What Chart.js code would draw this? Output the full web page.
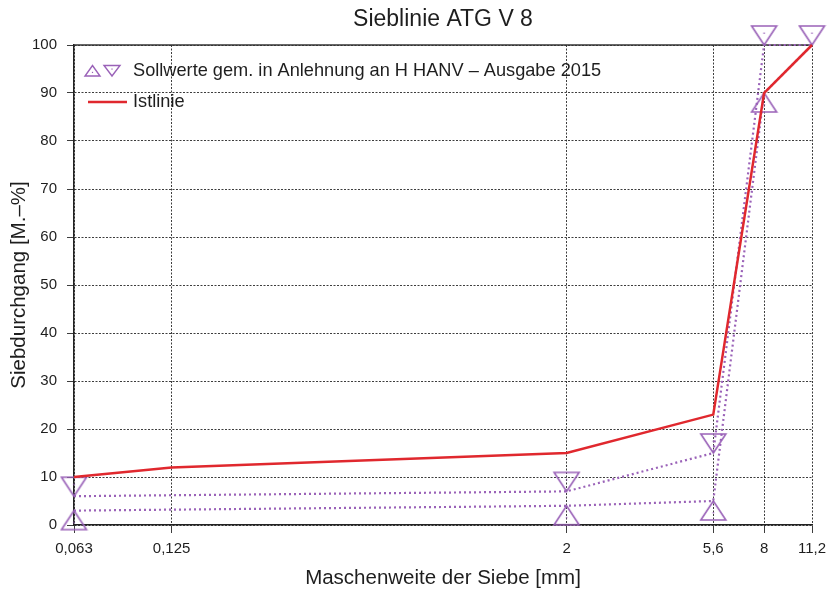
<!DOCTYPE html>
<html><head><meta charset="utf-8">
<script src="https://cdn.jsdelivr.net/npm/chart.js@4/dist/chart.umd.min.js"></script>
<style>html,body{margin:0;padding:0;background:#fff}#wrap{width:830px;height:595px}</style>
</head><body><div id="wrap"><canvas id="c" width="830" height="595"></canvas></div>
<script>
// ---- data ----
const sieveSizes = [0.063, 0.125, 2, 5.6, 8, 11.2];
const istlinie   = [10, 12, 15, 23, 90, 100];
const sollOben   = [6, null, 7, 15, 100, 100];
const sollUnten  = [3, null, 4, 5, 90, 100];
const markerOben  = [true, false, true, true, true, true];
const markerUnten = [true, false, true, true, true, false];
const yTicks = [0, 10, 20, 30, 40, 50, 60, 70, 80, 90, 100];
const titleText = 'Sieblinie ATG V 8';
const xTitle = 'Maschenweite der Siebe [mm]';
const yTitle = 'Siebdurchgang [M.–%]';
const legendLabels = ['Sollwerte gem. in Anlehnung an H HANV – Ausgabe 2015', 'Istlinie'];

// ---- style ----
const FONT = "'Liberation Sans', Arial, sans-serif";
const RED = '#e0282e';
const PURPLE = '#9a62b8';
const GRID = 'rgba(40,40,40,0.9)';
const TEXT = '#1e1e1e';

function triCanvas(dir, w, h, lw) {
  const c = document.createElement('canvas');
  c.width = w + 4; c.height = 2 * h + 4;
  const ctx = c.getContext('2d');
  const cx = c.width / 2, cy = c.height / 2;
  ctx.strokeStyle = PURPLE; ctx.lineWidth = lw; ctx.lineJoin = 'miter';
  ctx.beginPath();
  const s = dir === 'down' ? -1 : 1;
  ctx.moveTo(cx - w / 2, cy + s * h);
  ctx.lineTo(cx + w / 2, cy + s * h);
  ctx.lineTo(cx, cy);
  ctx.closePath();
  ctx.stroke();
  ctx.fillStyle = PURPLE;
  ctx.fillRect(cx - 0.7, cy + s * h * 0.62 - 0.7, 1.4, 1.4);
  return c;
}
const triDown = triCanvas('down', 25, 19, 1.6);
const triUp = triCanvas('up', 25, 19, 1.6);

function series(vals, marks) {
  const pts = [], radii = [];
  sieveSizes.forEach((x, i) => {
    if (vals[i] !== null) { pts.push({x: x, y: vals[i]}); radii.push(marks ? (marks[i] ? 6 : 0) : 0); }
  });
  return {pts, radii};
}
const sIst = series(istlinie, null);
const sOben = series(sollOben, markerOben);
const sUnten = series(sollUnten, markerUnten);

function legendTri(ctx, cx, top, w, h, dir) {
  ctx.beginPath();
  if (dir === 'up') {
    ctx.moveTo(cx - w / 2, top + h); ctx.lineTo(cx + w / 2, top + h); ctx.lineTo(cx, top);
  } else {
    ctx.moveTo(cx - w / 2, top); ctx.lineTo(cx + w / 2, top); ctx.lineTo(cx, top + h);
  }
  ctx.closePath(); ctx.stroke();
  const dy = dir === 'up' ? top + h * 0.66 : top + h * 0.34;
  ctx.fillRect(cx - 0.6, dy - 0.6, 1.2, 1.2);
}

const legendPlugin = {
  id: 'customDecor',
  afterDraw(chart) {
    const ctx = chart.ctx;
    const ca = chart.chartArea;
    ctx.save();
    // title centred over the plot area
    ctx.fillStyle = TEXT; ctx.font = '23px ' + FONT; ctx.textAlign = 'center'; ctx.textBaseline = 'middle';
    ctx.fillText(titleText, (ca.left + ca.right) / 2, 20);
    // legend
    const y1 = 71, y2 = 102;
    ctx.strokeStyle = PURPLE; ctx.fillStyle = PURPLE; ctx.lineWidth = 1.4;
    legendTri(ctx, 92.5, 65.5, 15, 10.5, 'up');
    legendTri(ctx, 112, 65.5, 16, 10.5, 'down');
    ctx.strokeStyle = RED; ctx.lineWidth = 2.5;
    ctx.beginPath(); ctx.moveTo(88, y2); ctx.lineTo(127, y2); ctx.stroke();
    ctx.fillStyle = TEXT; ctx.font = '18.2px ' + FONT; ctx.textBaseline = 'middle'; ctx.textAlign = 'left';
    ctx.fillText(legendLabels[0], 133, y1);
    ctx.fillText(legendLabels[1], 133, y2);
    ctx.restore();
  },
  beforeDatasetsDraw(chart) {
    const {ctx, chartArea} = chart;
    ctx.save();
    ctx.strokeStyle = '#333'; ctx.lineWidth = 1.5;
    ctx.beginPath(); ctx.moveTo(chartArea.left, chartArea.top); ctx.lineTo(chartArea.right, chartArea.top); ctx.stroke();
    ctx.restore();
  }
};

new Chart(document.getElementById('c'), {
  type: 'line',
  data: {
    datasets: [
      {label: legendLabels[1], data: sIst.pts, borderColor: RED, borderWidth: 2.5, pointRadius: 0, tension: 0, clip: false},
      {label: legendLabels[0], data: sOben.pts, borderColor: PURPLE, borderWidth: 2.2, borderDash: [2, 3],
       pointStyle: triDown, pointRadius: sOben.radii, pointHoverRadius: sOben.radii, tension: 0, clip: false},
      {label: legendLabels[0] + ' ', data: sUnten.pts, borderColor: PURPLE, borderWidth: 2.2, borderDash: [2, 3],
       pointStyle: triUp, pointRadius: sUnten.radii, pointHoverRadius: sUnten.radii, tension: 0, clip: false}
    ]
  },
  options: {
    responsive: false,
    animation: false,
    events: [],
    layout: {padding: {left: 0, right: 18, top: 45, bottom: 0}},
    plugins: {
      legend: {display: false},
      tooltip: {enabled: false},
      title: {display: false}
    },
    scales: {
      x: {
        type: 'logarithmic', min: sieveSizes[0], max: sieveSizes[sieveSizes.length - 1],
        afterBuildTicks: s => { s.ticks = sieveSizes.map(v => ({value: v})); },
        afterFit: s => { s.height = 70; s.paddingRight = 0; },
        ticks: {color: TEXT, font: {family: FONT, size: 15}, padding: 7, maxRotation: 0, autoSkip: false,
                callback: v => String(v).replace('.', ',')},
        grid: {color: GRID, lineWidth: 1, tickLength: 8},
        border: {display: true, color: '#222', width: 1.5, dash: [2, 1.5]},
        title: {display: true, text: xTitle, color: TEXT, font: {family: FONT, size: 20.5}, padding: {top: 0, bottom: 4}}
      },
      y: {
        min: 0, max: 100,
        afterBuildTicks: s => { s.ticks = yTicks.map(v => ({value: v})); },
        afterFit: s => { s.width = 74; },
        ticks: {color: TEXT, font: {family: FONT, size: 15}, padding: 10},
        grid: {color: GRID, lineWidth: 1, tickLength: 7},
        border: {display: true, color: '#222', width: 1.5, dash: [2, 1.5]},
        title: {display: true, text: yTitle, color: TEXT, font: {family: FONT, size: 20.5}, padding: {top: 7, bottom: 0}}
      }
    }
  },
  plugins: [legendPlugin]
});
</script></body></html>
